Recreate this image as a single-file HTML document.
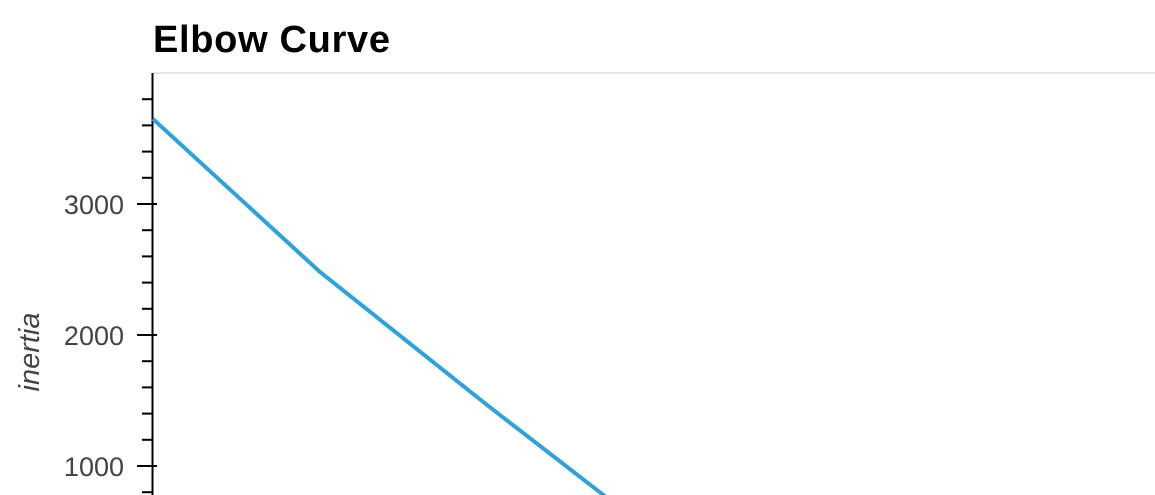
<!DOCTYPE html>
<html><head><meta charset="utf-8"><style>
html,body{margin:0;padding:0;background:#fff;width:1155px;height:495px;overflow:hidden}
svg{display:block;overflow:hidden}
</style></head><body>
<svg id="chart" width="1155" height="495" xmlns="http://www.w3.org/2000/svg">
<defs><clipPath id="clip"><rect x="0" y="0" width="1155" height="495"/></clipPath></defs>
<text x="153" y="52" font-family="Liberation Sans, sans-serif" font-size="38" font-weight="bold" fill="#000" textLength="237">Elbow Curve</text>
<line x1="153" y1="73" x2="1155" y2="73" stroke="#e5e5e5" stroke-width="2"/>
<text transform="translate(39,352) rotate(-90)" text-anchor="middle" font-family="Liberation Sans, sans-serif" font-size="29" font-style="italic" fill="#444">inertia</text>
<g id="yaxis" clip-path="url(#clip)"></g>
<g id="series" clip-path="url(#clip)"></g>
</svg>
<script>
const kValues = [1, 2, 3, 4, 5, 6, 7, 8, 9, 10];
const inertiaValues = [3649, 2481, 1466, 480, 300, 220, 170, 140, 120, 100];
const yTickValues = [1000, 2000, 3000];

const NS = 'http://www.w3.org/2000/svg';
function yScale(v){ return 204 + (3000 - v) * 0.131; }
function xScale(k){ return 153 + (k - 1) * 167; }

const yaxis = document.getElementById('yaxis');
const axisLine = document.createElementNS(NS,'line');
axisLine.setAttribute('x1',152.5);axisLine.setAttribute('x2',152.5);
axisLine.setAttribute('y1',73);axisLine.setAttribute('y2',495);
axisLine.setAttribute('stroke','#000');axisLine.setAttribute('stroke-width',2);


yaxis.appendChild(axisLine);

for (let v = 0; v <= 4000; v += 200) {
  const y = yScale(v);
  if (y < 80 || y > 495) continue;
  const major = v % 1000 === 0;
  const t = document.createElementNS(NS,'line');
  t.setAttribute('x1', major ? 137 : 142);
  t.setAttribute('x2', major ? 157 : 152);
  t.setAttribute('y1', y); t.setAttribute('y2', y);
  t.setAttribute('stroke','#000'); t.setAttribute('stroke-width',2);
  
  
  yaxis.appendChild(t);
}
yTickValues.forEach(v => {
  const tx = document.createElementNS(NS,'text');
  tx.setAttribute('x',124); tx.setAttribute('y', yScale(v) + 10);
  tx.setAttribute('text-anchor','end');
  tx.setAttribute('font-family','Liberation Sans, sans-serif');
  tx.setAttribute('font-size','27'); tx.setAttribute('fill','#444');
  tx.textContent = v;
  
  
  yaxis.appendChild(tx);
});

const pts = kValues.map((k,i) => xScale(k) + ',' + yScale(inertiaValues[i])).join(' ');
const pl = document.createElementNS(NS,'polyline');
pl.setAttribute('points', pts);
pl.setAttribute('fill','none'); pl.setAttribute('stroke','#30a2da');
pl.setAttribute('stroke-width',4); pl.setAttribute('stroke-linejoin','round');


document.getElementById('series').appendChild(pl);
</script>
</body></html>
